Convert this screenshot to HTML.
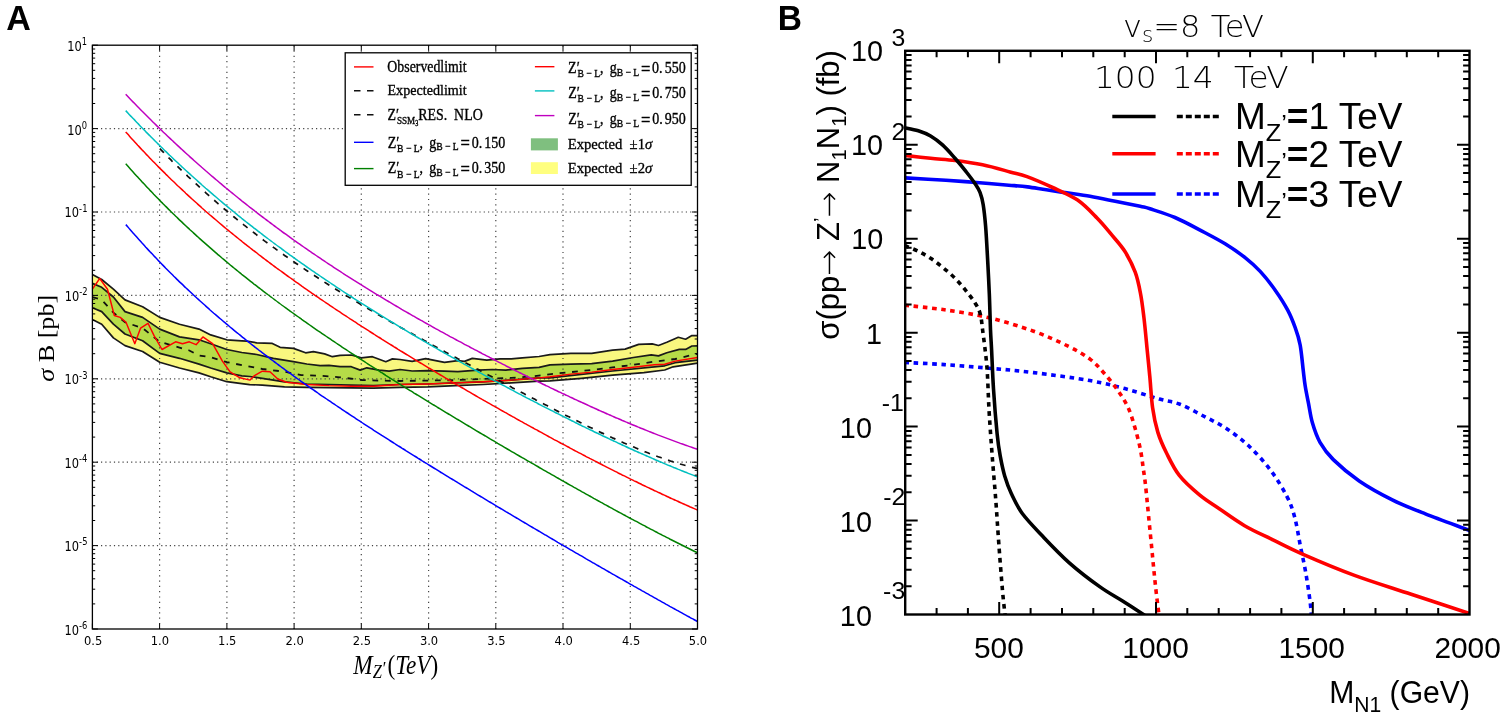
<!DOCTYPE html>
<html><head><meta charset="utf-8"><title>Figure</title>
<style>html,body{margin:0;padding:0;background:#fff;overflow:hidden;}svg{display:block;}</style></head>
<body><svg width="1508" height="719" viewBox="0 0 1508 719">
<rect width="1508" height="719" fill="#fff"/>
<clipPath id="clipA"><rect x="92.4" y="45.2" width="605.1" height="583.8"/></clipPath>
<g clip-path="url(#clipA)">
<polygon points="92.4,274.6 101.7,279.5 113.4,289.2 125.0,299.9 142.6,306.7 159.7,317.4 179.5,324.2 199.0,329.1 210.7,334.9 226.8,339.8 241.8,340.8 246.7,341.1 256.7,342.8 272.3,343.4 280.1,347.3 293.4,348.4 305.6,352.8 313.4,351.7 324.6,353.9 332.4,356.7 340.1,355.4 351.3,355.0 361.3,357.8 372.4,356.7 385.8,361.7 392.4,358.9 400.0,359.5 412.2,361.4 425.6,358.7 444.5,362.3 457.9,360.6 464.5,361.4 472.3,358.4 486.8,360.1 500.1,358.9 511.3,358.9 522.4,357.8 539.1,356.5 550.0,354.6 570.9,353.3 591.7,353.3 612.6,350.2 625.1,349.1 638.7,344.4 652.2,343.9 658.5,345.5 666.8,342.3 678.3,337.3 685.6,339.2 691.9,335.6 697.5,335.6 697.5,363.2 673.1,366.8 664.7,370.0 643.9,372.6 612.6,375.2 581.3,378.3 550.0,380.9 539.1,381.2 511.3,382.9 483.4,384.5 455.6,385.6 427.8,386.8 400.0,387.3 373.5,388.1 351.3,387.9 329.0,387.7 306.8,387.3 284.5,386.8 262.3,385.1 249.6,384.6 241.8,383.6 226.8,381.7 210.7,376.8 199.0,372.9 179.5,368.0 159.7,362.2 142.6,351.5 125.0,345.6 113.4,337.9 101.7,324.2 92.4,319.4" fill="#f9f77f" stroke="none"/>
<polygon points="92.4,283.4 101.7,287.3 113.4,297.0 125.0,311.6 142.6,317.4 159.7,329.1 179.5,336.9 199.0,339.8 210.7,343.7 226.8,349.5 241.8,352.5 256.7,354.5 273.4,358.4 293.4,361.7 306.8,364.0 320.1,365.6 329.0,365.4 340.1,366.7 351.3,366.7 360.2,370.1 366.8,367.8 379.1,370.1 389.1,371.2 400.0,369.5 412.2,371.0 427.8,370.6 444.5,371.2 457.9,371.7 477.9,370.1 492.4,369.5 505.7,370.1 522.4,368.4 539.1,367.3 550.0,364.8 570.9,364.2 591.7,363.7 612.6,361.1 633.4,357.5 651.2,354.9 658.5,355.9 666.8,352.8 679.3,349.4 685.6,349.4 691.9,346.0 697.5,345.8 697.5,360.1 675.2,362.7 664.7,365.8 612.6,371.0 550.0,377.8 539.1,377.9 511.3,380.1 483.4,381.8 455.6,382.9 427.8,384.0 400.0,384.5 373.5,385.6 351.3,385.1 329.0,384.5 306.8,384.0 284.5,381.8 262.3,378.4 249.6,376.5 241.8,375.8 226.8,372.9 210.7,368.0 199.0,364.1 179.5,358.3 159.7,353.4 142.6,340.8 125.0,334.0 113.4,324.2 101.7,311.6 92.4,307.7" fill="#b6dc48" stroke="none"/>
<g stroke="#444" stroke-width="1.2" fill="none">
<line x1="159.6" y1="45.2" x2="159.6" y2="629.0" stroke-dasharray="1.2 4.1"/>
<line x1="226.9" y1="45.2" x2="226.9" y2="629.0" stroke-dasharray="1.2 4.1"/>
<line x1="294.1" y1="45.2" x2="294.1" y2="629.0" stroke-dasharray="1.2 4.1"/>
<line x1="361.3" y1="45.2" x2="361.3" y2="629.0" stroke-dasharray="1.2 4.1"/>
<line x1="428.6" y1="45.2" x2="428.6" y2="629.0" stroke-dasharray="1.2 4.1"/>
<line x1="495.8" y1="45.2" x2="495.8" y2="629.0" stroke-dasharray="1.2 4.1"/>
<line x1="563.0" y1="45.2" x2="563.0" y2="629.0" stroke-dasharray="1.2 4.1"/>
<line x1="630.3" y1="45.2" x2="630.3" y2="629.0" stroke-dasharray="1.2 4.1"/>
<line x1="92.4" y1="128.6" x2="697.5" y2="128.6" stroke-dasharray="1.2 3.1"/>
<line x1="92.4" y1="212.0" x2="697.5" y2="212.0" stroke-dasharray="1.2 3.1"/>
<line x1="92.4" y1="295.4" x2="697.5" y2="295.4" stroke-dasharray="1.2 3.1"/>
<line x1="92.4" y1="378.8" x2="697.5" y2="378.8" stroke-dasharray="1.2 3.1"/>
<line x1="92.4" y1="462.2" x2="697.5" y2="462.2" stroke-dasharray="1.2 3.1"/>
<line x1="92.4" y1="545.6" x2="697.5" y2="545.6" stroke-dasharray="1.2 3.1"/>
</g>
<g fill="none" stroke="#1a1a1a" stroke-width="1.7" stroke-linejoin="round">
<polyline points="92.4,274.6 101.7,279.5 113.4,289.2 125.0,299.9 142.6,306.7 159.7,317.4 179.5,324.2 199.0,329.1 210.7,334.9 226.8,339.8 241.8,340.8 246.7,341.1 256.7,342.8 272.3,343.4 280.1,347.3 293.4,348.4 305.6,352.8 313.4,351.7 324.6,353.9 332.4,356.7 340.1,355.4 351.3,355.0 361.3,357.8 372.4,356.7 385.8,361.7 392.4,358.9 400.0,359.5 412.2,361.4 425.6,358.7 444.5,362.3 457.9,360.6 464.5,361.4 472.3,358.4 486.8,360.1 500.1,358.9 511.3,358.9 522.4,357.8 539.1,356.5 550.0,354.6 570.9,353.3 591.7,353.3 612.6,350.2 625.1,349.1 638.7,344.4 652.2,343.9 658.5,345.5 666.8,342.3 678.3,337.3 685.6,339.2 691.9,335.6 697.5,335.6"/>
<polyline points="92.4,283.4 101.7,287.3 113.4,297.0 125.0,311.6 142.6,317.4 159.7,329.1 179.5,336.9 199.0,339.8 210.7,343.7 226.8,349.5 241.8,352.5 256.7,354.5 273.4,358.4 293.4,361.7 306.8,364.0 320.1,365.6 329.0,365.4 340.1,366.7 351.3,366.7 360.2,370.1 366.8,367.8 379.1,370.1 389.1,371.2 400.0,369.5 412.2,371.0 427.8,370.6 444.5,371.2 457.9,371.7 477.9,370.1 492.4,369.5 505.7,370.1 522.4,368.4 539.1,367.3 550.0,364.8 570.9,364.2 591.7,363.7 612.6,361.1 633.4,357.5 651.2,354.9 658.5,355.9 666.8,352.8 679.3,349.4 685.6,349.4 691.9,346.0 697.5,345.8"/>
<polyline points="92.4,307.7 101.7,311.6 113.4,324.2 125.0,334.0 142.6,340.8 159.7,353.4 179.5,358.3 199.0,364.1 210.7,368.0 226.8,372.9 241.8,375.8 249.6,376.5 262.3,378.4 284.5,381.8 306.8,384.0 329.0,384.5 351.3,385.1 373.5,385.6 400.0,384.5 427.8,384.0 455.6,382.9 483.4,381.8 511.3,380.1 539.1,377.9 550.0,377.8 612.6,371.0 664.7,365.8 675.2,362.7 697.5,360.1"/>
<polyline points="92.4,319.4 101.7,324.2 113.4,337.9 125.0,345.6 142.6,351.5 159.7,362.2 179.5,368.0 199.0,372.9 210.7,376.8 226.8,381.7 241.8,383.6 249.6,384.6 262.3,385.1 284.5,386.8 306.8,387.3 329.0,387.7 351.3,387.9 373.5,388.1 400.0,387.3 427.8,386.8 455.6,385.6 483.4,384.5 511.3,382.9 539.1,381.2 550.0,380.9 581.3,378.3 612.6,375.2 643.9,372.6 664.7,370.0 673.1,366.8 697.5,363.2"/>
</g>
<polyline points="92.4,297.0 101.7,299.9 113.4,312.6 125.0,322.3 142.6,328.1 159.7,341.8 179.5,347.6 189.3,350.5 199.0,355.4 210.7,357.3 226.8,362.2 241.8,365.1 262.3,369.0 284.5,371.7 301.2,375.1 317.9,375.6 340.1,377.3 362.4,380.1 379.1,380.6 400.0,381.0 427.8,380.6 455.6,380.1 483.4,379.0 511.3,377.9 533.5,376.2 555.2,373.6 570.9,372.1 591.7,370.0 612.6,367.4 633.4,364.8 654.3,361.6 675.2,359.0 697.5,353.8" fill="none" stroke="#111" stroke-width="1.8" stroke-dasharray="5.8 6.7"/>
<polyline points="92.4,289.2 99.7,278.5 107.5,289.2 114.3,315.5 120.2,317.4 126.0,322.3 134.8,343.7 140.6,328.1 148.0,323.3 154.2,335.9 162.0,349.5 175.6,341.8 182.5,343.7 189.3,341.8 196.1,344.7 202.9,336.9 212.6,343.7 222.4,361.2 230.1,371.9 239.9,377.8 250.0,380.1 254.5,375.6 262.3,371.2 270.0,371.7 277.8,379.0 286.7,382.3 306.8,384.5 329.0,385.6 351.3,386.2 373.5,386.2 400.0,384.5 427.8,384.0 455.6,382.9 483.4,381.8 511.3,380.1 539.1,377.9 550.0,376.8 570.9,374.1 591.7,372.1 612.6,369.5 633.4,367.2 654.3,364.8 664.7,364.2 675.2,361.1 697.5,357.5" fill="none" stroke="#ff0000" stroke-width="1.45" stroke-linejoin="round"/>
<g fill="none" stroke-width="1.5" stroke-linejoin="round">
<path d="M125.8,224.6C126.5,225.3 128.5,227.7 129.8,229.2C131.1,230.8 132.5,232.3 133.8,233.8C135.1,235.3 136.5,236.8 137.8,238.3C139.1,239.8 140.5,241.3 141.8,242.8C143.1,244.2 144.5,245.7 145.8,247.2C147.1,248.6 148.5,250.0 149.8,251.5C151.1,252.9 152.5,254.3 153.8,255.7C155.1,257.1 156.5,258.5 157.8,259.9C159.1,261.3 160.5,262.7 161.8,264.1C163.1,265.4 164.5,266.8 165.8,268.2C167.1,269.5 168.5,270.9 169.8,272.2C171.1,273.5 172.5,274.8 173.8,276.2C175.1,277.5 176.5,278.8 177.8,280.1C179.1,281.4 180.5,282.7 181.8,283.9C183.1,285.2 184.5,286.5 185.8,287.8C187.1,289.0 188.5,290.3 189.8,291.5C191.1,292.8 192.5,294.0 193.8,295.2C195.1,296.5 196.5,297.7 197.8,298.9C199.1,300.1 200.5,301.3 201.8,302.5C203.1,303.7 204.5,304.9 205.8,306.1C207.1,307.3 208.5,308.5 209.8,309.7C211.1,310.8 212.5,312.0 213.8,313.2C215.1,314.3 216.5,315.5 217.8,316.6C219.1,317.8 220.5,318.9 221.8,320.0C223.1,321.2 224.5,322.3 225.8,323.4C227.1,324.5 228.5,325.6 229.8,326.8C231.1,327.9 232.5,329.0 233.8,330.1C235.1,331.2 236.5,332.3 237.8,333.3C239.1,334.4 240.5,335.5 241.8,336.6C243.1,337.7 244.5,338.7 245.8,339.8C247.1,340.9 248.5,341.9 249.8,343.0C251.1,344.0 252.5,345.1 253.8,346.1C255.1,347.2 256.5,348.2 257.8,349.2C259.1,350.3 260.5,351.3 261.8,352.3C263.1,353.3 264.5,354.4 265.8,355.4C267.1,356.4 268.5,357.4 269.8,358.4C271.1,359.4 272.5,360.4 273.8,361.4C275.1,362.4 276.5,363.4 277.8,364.4C279.1,365.4 280.5,366.4 281.8,367.4C283.1,368.3 284.5,369.3 285.8,370.3C287.1,371.3 288.5,372.2 289.8,373.2C291.1,374.2 292.5,375.1 293.8,376.1C295.1,377.0 296.5,378.0 297.8,379.0C299.1,379.9 300.5,380.9 301.8,381.8C303.1,382.7 304.5,383.7 305.8,384.6C307.1,385.6 308.5,386.5 309.8,387.4C311.1,388.4 312.5,389.3 313.8,390.2C315.1,391.2 316.5,392.1 317.8,393.0C319.1,393.9 320.5,394.8 321.8,395.8C323.1,396.7 324.5,397.6 325.8,398.5C327.1,399.4 328.5,400.3 329.8,401.2C331.1,402.1 332.5,403.0 333.8,403.9C335.1,404.8 336.5,405.7 337.8,406.6C339.1,407.5 340.5,408.4 341.8,409.3C343.1,410.2 344.5,411.1 345.8,412.0C347.1,412.8 348.5,413.7 349.8,414.6C351.1,415.5 352.5,416.4 353.8,417.2C355.1,418.1 356.5,419.0 357.8,419.9C359.1,420.7 360.5,421.6 361.8,422.5C363.1,423.4 364.5,424.2 365.8,425.1C367.1,426.0 368.5,426.8 369.8,427.7C371.1,428.5 372.5,429.4 373.8,430.3C375.1,431.1 376.5,432.0 377.8,432.8C379.1,433.7 380.5,434.5 381.8,435.4C383.1,436.2 384.5,437.1 385.8,437.9C387.1,438.8 388.5,439.6 389.8,440.5C391.1,441.3 392.5,442.2 393.8,443.0C395.1,443.9 396.5,444.7 397.8,445.6C399.1,446.4 400.5,447.2 401.8,448.1C403.1,448.9 404.5,449.7 405.8,450.6C407.1,451.4 408.5,452.3 409.8,453.1C411.1,453.9 412.5,454.8 413.8,455.6C415.1,456.4 416.5,457.2 417.8,458.1C419.1,458.9 420.5,459.7 421.8,460.6C423.1,461.4 424.5,462.2 425.8,463.0C427.1,463.9 428.5,464.7 429.8,465.5C431.1,466.3 432.5,467.2 433.8,468.0C435.1,468.8 436.5,469.6 437.8,470.4C439.1,471.3 440.5,472.1 441.8,472.9C443.1,473.7 444.5,474.5 445.8,475.3C447.1,476.2 448.5,477.0 449.8,477.8C451.1,478.6 452.5,479.4 453.8,480.2C455.1,481.0 456.5,481.8 457.8,482.7C459.1,483.5 460.5,484.3 461.8,485.1C463.1,485.9 464.5,486.7 465.8,487.5C467.1,488.3 468.5,489.1 469.8,489.9C471.1,490.7 472.5,491.5 473.8,492.4C475.1,493.2 476.5,494.0 477.8,494.8C479.1,495.6 480.5,496.4 481.8,497.2C483.1,498.0 484.5,498.8 485.8,499.6C487.1,500.4 488.5,501.2 489.8,502.0C491.1,502.8 492.5,503.6 493.8,504.4C495.1,505.2 496.5,506.0 497.8,506.8C499.1,507.6 500.5,508.4 501.8,509.2C503.1,510.0 504.5,510.8 505.8,511.6C507.1,512.3 508.5,513.1 509.8,513.9C511.1,514.7 512.5,515.5 513.8,516.3C515.1,517.1 516.5,517.9 517.8,518.7C519.1,519.5 520.5,520.3 521.8,521.1C523.1,521.9 524.5,522.6 525.8,523.4C527.1,524.2 528.5,525.0 529.8,525.8C531.1,526.6 532.5,527.4 533.8,528.2C535.1,528.9 536.5,529.7 537.8,530.5C539.1,531.3 540.5,532.1 541.8,532.9C543.1,533.7 544.5,534.4 545.8,535.2C547.1,536.0 548.5,536.8 549.8,537.6C551.1,538.4 552.5,539.1 553.8,539.9C555.1,540.7 556.5,541.5 557.8,542.3C559.1,543.0 560.5,543.8 561.8,544.6C563.1,545.4 564.5,546.2 565.8,546.9C567.1,547.7 568.5,548.5 569.8,549.3C571.1,550.1 572.5,550.8 573.8,551.6C575.1,552.4 576.5,553.2 577.8,553.9C579.1,554.7 580.5,555.5 581.8,556.2C583.1,557.0 584.5,557.8 585.8,558.6C587.1,559.3 588.5,560.1 589.8,560.9C591.1,561.7 592.5,562.4 593.8,563.2C595.1,564.0 596.5,564.7 597.8,565.5C599.1,566.3 600.5,567.0 601.8,567.8C603.1,568.6 604.5,569.3 605.8,570.1C607.1,570.9 608.5,571.6 609.8,572.4C611.1,573.2 612.5,573.9 613.8,574.7C615.1,575.4 616.5,576.2 617.8,577.0C619.1,577.7 620.5,578.5 621.8,579.2C623.1,580.0 624.5,580.8 625.8,581.5C627.1,582.3 628.5,583.0 629.8,583.8C631.1,584.6 632.5,585.3 633.8,586.1C635.1,586.8 636.5,587.6 637.8,588.3C639.1,589.1 640.5,589.8 641.8,590.6C643.1,591.3 644.5,592.1 645.8,592.8C647.1,593.6 648.5,594.3 649.8,595.1C651.1,595.8 652.5,596.6 653.8,597.3C655.1,598.1 656.5,598.8 657.8,599.6C659.1,600.3 660.5,601.1 661.8,601.8C663.1,602.6 664.5,603.3 665.8,604.1C667.1,604.8 668.5,605.5 669.8,606.3C671.1,607.0 672.5,607.8 673.8,608.5C675.1,609.2 676.5,610.0 677.8,610.7C679.1,611.5 680.5,612.2 681.8,612.9C683.1,613.7 684.5,614.4 685.8,615.1C687.1,615.9 688.5,616.6 689.8,617.3C691.1,618.1 692.5,618.8 693.8,619.5C695.1,620.2 696.9,621.2 697.5,621.6" stroke="#0000ff"/>
<path d="M125.7,163.7C126.4,164.4 128.4,166.7 129.7,168.2C131.0,169.7 132.4,171.2 133.7,172.7C135.0,174.2 136.4,175.6 137.7,177.1C139.0,178.6 140.4,180.0 141.7,181.5C143.0,182.9 144.4,184.3 145.7,185.7C147.0,187.2 148.4,188.6 149.7,190.0C151.0,191.4 152.4,192.8 153.7,194.2C155.0,195.5 156.4,196.9 157.7,198.3C159.0,199.7 160.4,201.0 161.7,202.4C163.0,203.7 164.4,205.0 165.7,206.4C167.0,207.7 168.4,209.0 169.7,210.3C171.0,211.7 172.4,213.0 173.7,214.3C175.0,215.6 176.4,216.8 177.7,218.1C179.0,219.4 180.4,220.7 181.7,221.9C183.0,223.2 184.4,224.5 185.7,225.7C187.0,227.0 188.4,228.2 189.7,229.5C191.0,230.7 192.4,231.9 193.7,233.1C195.0,234.4 196.4,235.6 197.7,236.8C199.0,238.0 200.4,239.2 201.7,240.4C203.0,241.6 204.4,242.7 205.7,243.9C207.0,245.1 208.4,246.3 209.7,247.4C211.0,248.6 212.4,249.8 213.7,250.9C215.0,252.1 216.4,253.2 217.7,254.4C219.0,255.5 220.4,256.6 221.7,257.8C223.0,258.9 224.4,260.0 225.7,261.1C227.0,262.2 228.4,263.4 229.7,264.5C231.0,265.6 232.4,266.7 233.7,267.8C235.0,268.9 236.4,269.9 237.7,271.0C239.0,272.1 240.4,273.2 241.7,274.3C243.0,275.3 244.4,276.4 245.7,277.4C247.0,278.5 248.4,279.6 249.7,280.6C251.0,281.7 252.4,282.7 253.7,283.8C255.0,284.8 256.4,285.8 257.7,286.9C259.0,287.9 260.4,288.9 261.7,289.9C263.0,291.0 264.4,292.0 265.7,293.0C267.0,294.0 268.4,295.0 269.7,296.0C271.0,297.0 272.4,298.0 273.7,299.0C275.0,300.0 276.4,301.0 277.7,302.0C279.0,303.0 280.4,304.0 281.7,305.0C283.0,305.9 284.4,306.9 285.7,307.9C287.0,308.9 288.4,309.8 289.7,310.8C291.0,311.8 292.4,312.7 293.7,313.7C295.0,314.6 296.4,315.6 297.7,316.5C299.0,317.5 300.4,318.4 301.7,319.4C303.0,320.3 304.4,321.3 305.7,322.2C307.0,323.1 308.4,324.1 309.7,325.0C311.0,325.9 312.4,326.9 313.7,327.8C315.0,328.7 316.4,329.6 317.7,330.6C319.0,331.5 320.4,332.4 321.7,333.3C323.0,334.2 324.4,335.1 325.7,336.0C327.0,336.9 328.4,337.8 329.7,338.7C331.0,339.6 332.4,340.5 333.7,341.4C335.0,342.3 336.4,343.2 337.7,344.1C339.0,345.0 340.4,345.9 341.7,346.8C343.0,347.7 344.4,348.6 345.7,349.4C347.0,350.3 348.4,351.2 349.7,352.1C351.0,353.0 352.4,353.8 353.7,354.7C355.0,355.6 356.4,356.4 357.7,357.3C359.0,358.2 360.4,359.1 361.7,359.9C363.0,360.8 364.4,361.6 365.7,362.5C367.0,363.4 368.4,364.2 369.7,365.1C371.0,365.9 372.4,366.8 373.7,367.6C375.0,368.5 376.4,369.4 377.7,370.2C379.0,371.1 380.4,371.9 381.7,372.7C383.0,373.6 384.4,374.4 385.7,375.3C387.0,376.1 388.4,377.0 389.7,377.8C391.0,378.6 392.4,379.5 393.7,380.3C395.0,381.2 396.4,382.0 397.7,382.8C399.0,383.7 400.4,384.5 401.7,385.3C403.0,386.2 404.4,387.0 405.7,387.8C407.0,388.6 408.4,389.5 409.7,390.3C411.0,391.1 412.4,391.9 413.7,392.8C415.0,393.6 416.4,394.4 417.7,395.2C419.0,396.0 420.4,396.9 421.7,397.7C423.0,398.5 424.4,399.3 425.7,400.1C427.0,401.0 428.4,401.8 429.7,402.6C431.0,403.4 432.4,404.2 433.7,405.0C435.0,405.8 436.4,406.6 437.7,407.5C439.0,408.3 440.4,409.1 441.7,409.9C443.0,410.7 444.4,411.5 445.7,412.3C447.0,413.1 448.4,413.9 449.7,414.7C451.0,415.5 452.4,416.3 453.7,417.1C455.0,417.9 456.4,418.7 457.7,419.5C459.0,420.3 460.4,421.1 461.7,421.9C463.0,422.7 464.4,423.5 465.7,424.3C467.0,425.1 468.4,425.9 469.7,426.7C471.0,427.5 472.4,428.3 473.7,429.1C475.0,429.9 476.4,430.7 477.7,431.5C479.0,432.2 480.4,433.0 481.7,433.8C483.0,434.6 484.4,435.4 485.7,436.2C487.0,437.0 488.4,437.8 489.7,438.6C491.0,439.3 492.4,440.1 493.7,440.9C495.0,441.7 496.4,442.5 497.7,443.3C499.0,444.0 500.4,444.8 501.7,445.6C503.0,446.4 504.4,447.2 505.7,448.0C507.0,448.7 508.4,449.5 509.7,450.3C511.0,451.1 512.4,451.9 513.7,452.6C515.0,453.4 516.4,454.2 517.7,455.0C519.0,455.7 520.4,456.5 521.7,457.3C523.0,458.1 524.4,458.8 525.7,459.6C527.0,460.4 528.4,461.2 529.7,461.9C531.0,462.7 532.4,463.5 533.7,464.2C535.0,465.0 536.4,465.8 537.7,466.5C539.0,467.3 540.4,468.1 541.7,468.8C543.0,469.6 544.4,470.4 545.7,471.1C547.0,471.9 548.4,472.7 549.7,473.4C551.0,474.2 552.4,475.0 553.7,475.7C555.0,476.5 556.4,477.2 557.7,478.0C559.0,478.8 560.4,479.5 561.7,480.3C563.0,481.0 564.4,481.8 565.7,482.5C567.0,483.3 568.4,484.1 569.7,484.8C571.0,485.6 572.4,486.3 573.7,487.1C575.0,487.8 576.4,488.6 577.7,489.3C579.0,490.1 580.4,490.8 581.7,491.6C583.0,492.3 584.4,493.1 585.7,493.8C587.0,494.5 588.4,495.3 589.7,496.0C591.0,496.8 592.4,497.5 593.7,498.3C595.0,499.0 596.4,499.7 597.7,500.5C599.0,501.2 600.4,502.0 601.7,502.7C603.0,503.4 604.4,504.2 605.7,504.9C607.0,505.6 608.4,506.4 609.7,507.1C611.0,507.8 612.4,508.6 613.7,509.3C615.0,510.0 616.4,510.7 617.7,511.5C619.0,512.2 620.4,512.9 621.7,513.6C623.0,514.4 624.4,515.1 625.7,515.8C627.0,516.5 628.4,517.2 629.7,518.0C631.0,518.7 632.4,519.4 633.7,520.1C635.0,520.8 636.4,521.5 637.7,522.2C639.0,523.0 640.4,523.7 641.7,524.4C643.0,525.1 644.4,525.8 645.7,526.5C647.0,527.2 648.4,527.9 649.7,528.6C651.0,529.3 652.4,530.0 653.7,530.7C655.0,531.4 656.4,532.1 657.7,532.8C659.0,533.5 660.4,534.2 661.7,534.8C663.0,535.5 664.4,536.2 665.7,536.9C667.0,537.6 668.4,538.3 669.7,539.0C671.0,539.6 672.4,540.3 673.7,541.0C675.0,541.7 676.4,542.4 677.7,543.0C679.0,543.7 680.4,544.4 681.7,545.0C683.0,545.7 684.4,546.4 685.7,547.0C687.0,547.7 688.4,548.4 689.7,549.0C691.0,549.7 692.4,550.4 693.7,551.0C695.0,551.6 696.9,552.5 697.5,552.8" stroke="#008000"/>
<path d="M125.7,131.9C126.4,132.7 128.4,134.9 129.7,136.4C131.0,137.9 132.4,139.4 133.7,140.8C135.0,142.3 136.4,143.7 137.7,145.2C139.0,146.6 140.4,148.0 141.7,149.5C143.0,150.9 144.4,152.3 145.7,153.7C147.0,155.1 148.4,156.5 149.7,157.9C151.0,159.3 152.4,160.6 153.7,162.0C155.0,163.4 156.4,164.7 157.7,166.1C159.0,167.4 160.4,168.8 161.7,170.1C163.0,171.4 164.4,172.7 165.7,174.1C167.0,175.4 168.4,176.7 169.7,178.0C171.0,179.3 172.4,180.6 173.7,181.8C175.0,183.1 176.4,184.4 177.7,185.7C179.0,186.9 180.4,188.2 181.7,189.4C183.0,190.7 184.4,191.9 185.7,193.2C187.0,194.4 188.4,195.6 189.7,196.9C191.0,198.1 192.4,199.3 193.7,200.5C195.0,201.7 196.4,202.9 197.7,204.1C199.0,205.3 200.4,206.5 201.7,207.7C203.0,208.8 204.4,210.0 205.7,211.2C207.0,212.3 208.4,213.5 209.7,214.7C211.0,215.8 212.4,217.0 213.7,218.1C215.0,219.2 216.4,220.4 217.7,221.5C219.0,222.6 220.4,223.8 221.7,224.9C223.0,226.0 224.4,227.1 225.7,228.2C227.0,229.3 228.4,230.4 229.7,231.5C231.0,232.6 232.4,233.7 233.7,234.8C235.0,235.9 236.4,236.9 237.7,238.0C239.0,239.1 240.4,240.2 241.7,241.2C243.0,242.3 244.4,243.3 245.7,244.4C247.0,245.5 248.4,246.5 249.7,247.5C251.0,248.6 252.4,249.6 253.7,250.7C255.0,251.7 256.4,252.7 257.7,253.7C259.0,254.8 260.4,255.8 261.7,256.8C263.0,257.8 264.4,258.8 265.7,259.8C267.0,260.8 268.4,261.8 269.7,262.8C271.0,263.8 272.4,264.8 273.7,265.8C275.0,266.8 276.4,267.8 277.7,268.8C279.0,269.8 280.4,270.7 281.7,271.7C283.0,272.7 284.4,273.7 285.7,274.6C287.0,275.6 288.4,276.6 289.7,277.5C291.0,278.5 292.4,279.4 293.7,280.4C295.0,281.3 296.4,282.3 297.7,283.2C299.0,284.2 300.4,285.1 301.7,286.1C303.0,287.0 304.4,287.9 305.7,288.9C307.0,289.8 308.4,290.7 309.7,291.7C311.0,292.6 312.4,293.5 313.7,294.4C315.0,295.3 316.4,296.3 317.7,297.2C319.0,298.1 320.4,299.0 321.7,299.9C323.0,300.8 324.4,301.7 325.7,302.6C327.0,303.5 328.4,304.4 329.7,305.3C331.0,306.2 332.4,307.1 333.7,308.0C335.0,308.9 336.4,309.8 337.7,310.7C339.0,311.5 340.4,312.4 341.7,313.3C343.0,314.2 344.4,315.1 345.7,315.9C347.0,316.8 348.4,317.7 349.7,318.6C351.0,319.4 352.4,320.3 353.7,321.2C355.0,322.0 356.4,322.9 357.7,323.8C359.0,324.6 360.4,325.5 361.7,326.4C363.0,327.2 364.4,328.1 365.7,328.9C367.0,329.8 368.4,330.6 369.7,331.5C371.0,332.3 372.4,333.2 373.7,334.0C375.0,334.9 376.4,335.7 377.7,336.6C379.0,337.4 380.4,338.2 381.7,339.1C383.0,339.9 384.4,340.8 385.7,341.6C387.0,342.4 388.4,343.3 389.7,344.1C391.0,344.9 392.4,345.7 393.7,346.6C395.0,347.4 396.4,348.2 397.7,349.1C399.0,349.9 400.4,350.7 401.7,351.5C403.0,352.3 404.4,353.2 405.7,354.0C407.0,354.8 408.4,355.6 409.7,356.4C411.0,357.2 412.4,358.1 413.7,358.9C415.0,359.7 416.4,360.5 417.7,361.3C419.0,362.1 420.4,362.9 421.7,363.7C423.0,364.5 424.4,365.3 425.7,366.1C427.0,366.9 428.4,367.7 429.7,368.5C431.0,369.3 432.4,370.1 433.7,370.9C435.0,371.7 436.4,372.5 437.7,373.3C439.0,374.1 440.4,374.9 441.7,375.7C443.0,376.5 444.4,377.3 445.7,378.1C447.0,378.9 448.4,379.6 449.7,380.4C451.0,381.2 452.4,382.0 453.7,382.8C455.0,383.6 456.4,384.4 457.7,385.1C459.0,385.9 460.4,386.7 461.7,387.5C463.0,388.3 464.4,389.0 465.7,389.8C467.0,390.6 468.4,391.4 469.7,392.1C471.0,392.9 472.4,393.7 473.7,394.5C475.0,395.2 476.4,396.0 477.7,396.8C479.0,397.5 480.4,398.3 481.7,399.1C483.0,399.8 484.4,400.6 485.7,401.4C487.0,402.1 488.4,402.9 489.7,403.7C491.0,404.4 492.4,405.2 493.7,405.9C495.0,406.7 496.4,407.5 497.7,408.2C499.0,409.0 500.4,409.7 501.7,410.5C503.0,411.2 504.4,412.0 505.7,412.7C507.0,413.5 508.4,414.2 509.7,415.0C511.0,415.7 512.4,416.5 513.7,417.2C515.0,418.0 516.4,418.7 517.7,419.5C519.0,420.2 520.4,421.0 521.7,421.7C523.0,422.4 524.4,423.2 525.7,423.9C527.0,424.7 528.4,425.4 529.7,426.1C531.0,426.9 532.4,427.6 533.7,428.3C535.0,429.1 536.4,429.8 537.7,430.5C539.0,431.3 540.4,432.0 541.7,432.7C543.0,433.5 544.4,434.2 545.7,434.9C547.0,435.6 548.4,436.4 549.7,437.1C551.0,437.8 552.4,438.5 553.7,439.3C555.0,440.0 556.4,440.7 557.7,441.4C559.0,442.1 560.4,442.9 561.7,443.6C563.0,444.3 564.4,445.0 565.7,445.7C567.0,446.4 568.4,447.1 569.7,447.8C571.0,448.5 572.4,449.3 573.7,450.0C575.0,450.7 576.4,451.4 577.7,452.1C579.0,452.8 580.4,453.5 581.7,454.2C583.0,454.9 584.4,455.6 585.7,456.3C587.0,457.0 588.4,457.7 589.7,458.4C591.0,459.0 592.4,459.7 593.7,460.4C595.0,461.1 596.4,461.8 597.7,462.5C599.0,463.2 600.4,463.9 601.7,464.5C603.0,465.2 604.4,465.9 605.7,466.6C607.0,467.3 608.4,468.0 609.7,468.6C611.0,469.3 612.4,470.0 613.7,470.6C615.0,471.3 616.4,472.0 617.7,472.7C619.0,473.3 620.4,474.0 621.7,474.7C623.0,475.3 624.4,476.0 625.7,476.6C627.0,477.3 628.4,478.0 629.7,478.6C631.0,479.3 632.4,479.9 633.7,480.6C635.0,481.2 636.4,481.9 637.7,482.5C639.0,483.2 640.4,483.8 641.7,484.5C643.0,485.1 644.4,485.8 645.7,486.4C647.0,487.0 648.4,487.7 649.7,488.3C651.0,488.9 652.4,489.6 653.7,490.2C655.0,490.8 656.4,491.5 657.7,492.1C659.0,492.7 660.4,493.3 661.7,494.0C663.0,494.6 664.4,495.2 665.7,495.8C667.0,496.4 668.4,497.1 669.7,497.7C671.0,498.3 672.4,498.9 673.7,499.5C675.0,500.1 676.4,500.7 677.7,501.3C679.0,501.9 680.4,502.5 681.7,503.1C683.0,503.7 684.4,504.3 685.7,504.9C687.0,505.5 688.4,506.1 689.7,506.7C691.0,507.2 692.4,507.8 693.7,508.4C695.0,509.0 696.9,509.8 697.5,510.0" stroke="#ff0000"/>
<path d="M159.8,148.6C160.5,149.3 162.5,151.4 163.8,152.7C165.1,154.1 166.5,155.4 167.8,156.8C169.1,158.1 170.5,159.4 171.8,160.8C173.1,162.1 174.5,163.4 175.8,164.7C177.1,166.0 178.5,167.3 179.8,168.6C181.1,169.9 182.5,171.2 183.8,172.5C185.1,173.7 186.5,175.0 187.8,176.3C189.1,177.5 190.5,178.8 191.8,180.0C193.1,181.3 194.5,182.5 195.8,183.7C197.1,185.0 198.5,186.2 199.8,187.4C201.1,188.6 202.5,189.8 203.8,191.0C205.1,192.2 206.5,193.4 207.8,194.6C209.1,195.8 210.5,197.0 211.8,198.1C213.1,199.3 214.5,200.5 215.8,201.6C217.1,202.8 218.5,203.9 219.8,205.1C221.1,206.2 222.5,207.3 223.8,208.5C225.1,209.6 226.5,210.7 227.8,211.8C229.1,212.9 230.5,214.0 231.8,215.1C233.1,216.2 234.5,217.3 235.8,218.4C237.1,219.5 238.5,220.6 239.8,221.7C241.1,222.7 242.5,223.8 243.8,224.9C245.1,225.9 246.5,227.0 247.8,228.0C249.1,229.1 250.5,230.1 251.8,231.1C253.1,232.2 254.5,233.2 255.8,234.2C257.1,235.2 258.5,236.3 259.8,237.3C261.1,238.3 262.5,239.3 263.8,240.3C265.1,241.3 266.5,242.3 267.8,243.2C269.1,244.2 270.5,245.2 271.8,246.2C273.1,247.2 274.5,248.1 275.8,249.1C277.1,250.1 278.5,251.0 279.8,252.0C281.1,252.9 282.5,253.9 283.8,254.8C285.1,255.8 286.5,256.7 287.8,257.6C289.1,258.6 290.5,259.5 291.8,260.4C293.1,261.3 294.5,262.3 295.8,263.2C297.1,264.1 298.5,265.0 299.8,265.9C301.1,266.8 302.5,267.7 303.8,268.6C305.1,269.5 306.5,270.4 307.8,271.3C309.1,272.1 310.5,273.0 311.8,273.9C313.1,274.8 314.5,275.6 315.8,276.5C317.1,277.4 318.5,278.2 319.8,279.1C321.1,280.0 322.5,280.8 323.8,281.7C325.1,282.5 326.5,283.4 327.8,284.2C329.1,285.1 330.5,285.9 331.8,286.7C333.1,287.6 334.5,288.4 335.8,289.2C337.1,290.1 338.5,290.9 339.8,291.7C341.1,292.5 342.5,293.4 343.8,294.2C345.1,295.0 346.5,295.8 347.8,296.6C349.1,297.4 350.5,298.2 351.8,299.0C353.1,299.8 354.5,300.6 355.8,301.4C357.1,302.2 358.5,303.0 359.8,303.8C361.1,304.6 362.5,305.4 363.8,306.2C365.1,307.0 366.5,307.8 367.8,308.6C369.1,309.3 370.5,310.1 371.8,310.9C373.1,311.7 374.5,312.4 375.8,313.2C377.1,314.0 378.5,314.8 379.8,315.5C381.1,316.3 382.5,317.1 383.8,317.8C385.1,318.6 386.5,319.4 387.8,320.1C389.1,320.9 390.5,321.6 391.8,322.4C393.1,323.1 394.5,323.9 395.8,324.6C397.1,325.4 398.5,326.1 399.8,326.9C401.1,327.6 402.5,328.4 403.8,329.1C405.1,329.9 406.5,330.6 407.8,331.4C409.1,332.1 410.5,332.9 411.8,333.6C413.1,334.3 414.5,335.1 415.8,335.8C417.1,336.5 418.5,337.3 419.8,338.0C421.1,338.7 422.5,339.5 423.8,340.2C425.1,340.9 426.5,341.7 427.8,342.4C429.1,343.1 430.5,343.9 431.8,344.6C433.1,345.3 434.5,346.0 435.8,346.8C437.1,347.5 438.5,348.2 439.8,348.9C441.1,349.7 442.5,350.4 443.8,351.1C445.1,351.8 446.5,352.5 447.8,353.3C449.1,354.0 450.5,354.7 451.8,355.4C453.1,356.1 454.5,356.9 455.8,357.6C457.1,358.3 458.5,359.0 459.8,359.7C461.1,360.4 462.5,361.2 463.8,361.9C465.1,362.6 466.5,363.3 467.8,364.0C469.1,364.7 470.5,365.4 471.8,366.2C473.1,366.9 474.5,367.6 475.8,368.3C477.1,369.0 478.5,369.7 479.8,370.4C481.1,371.1 482.5,371.8 483.8,372.5C485.1,373.3 486.5,374.0 487.8,374.7C489.1,375.4 490.5,376.1 491.8,376.8C493.1,377.5 494.5,378.2 495.8,378.9C497.1,379.6 498.5,380.3 499.8,381.0C501.1,381.7 502.5,382.4 503.8,383.1C505.1,383.8 506.5,384.5 507.8,385.3C509.1,386.0 510.5,386.7 511.8,387.4C513.1,388.1 514.5,388.8 515.8,389.5C517.1,390.2 518.5,390.9 519.8,391.6C521.1,392.3 522.5,393.0 523.8,393.6C525.1,394.3 526.5,395.0 527.8,395.7C529.1,396.4 530.5,397.1 531.8,397.8C533.1,398.5 534.5,399.2 535.8,399.9C537.1,400.6 538.5,401.3 539.8,402.0C541.1,402.7 542.5,403.4 543.8,404.0C545.1,404.7 546.5,405.4 547.8,406.1C549.1,406.8 550.5,407.5 551.8,408.2C553.1,408.8 554.5,409.5 555.8,410.2C557.1,410.9 558.5,411.6 559.8,412.2C561.1,412.9 562.5,413.6 563.8,414.3C565.1,414.9 566.5,415.6 567.8,416.3C569.1,416.9 570.5,417.6 571.8,418.3C573.1,418.9 574.5,419.6 575.8,420.3C577.1,420.9 578.5,421.6 579.8,422.2C581.1,422.9 582.5,423.6 583.8,424.2C585.1,424.9 586.5,425.5 587.8,426.2C589.1,426.8 590.5,427.5 591.8,428.1C593.1,428.7 594.5,429.4 595.8,430.0C597.1,430.7 598.5,431.3 599.8,431.9C601.1,432.6 602.5,433.2 603.8,433.8C605.1,434.4 606.5,435.1 607.8,435.7C609.1,436.3 610.5,436.9 611.8,437.5C613.1,438.1 614.5,438.7 615.8,439.3C617.1,439.9 618.5,440.5 619.8,441.1C621.1,441.7 622.5,442.3 623.8,442.9C625.1,443.5 626.5,444.0 627.8,444.6C629.1,445.2 630.5,445.8 631.8,446.3C633.1,446.9 634.5,447.5 635.8,448.0C637.1,448.6 638.5,449.1 639.8,449.7C641.1,450.2 642.5,450.7 643.8,451.3C645.1,451.8 646.5,452.3 647.8,452.8C649.1,453.4 650.5,453.9 651.8,454.4C653.1,454.9 654.5,455.4 655.8,455.9C657.1,456.4 658.5,456.9 659.8,457.3C661.1,457.8 662.5,458.3 663.8,458.7C665.1,459.2 666.5,459.7 667.8,460.1C669.1,460.5 670.5,461.0 671.8,461.4C673.1,461.8 674.5,462.3 675.8,462.7C677.1,463.1 678.5,463.5 679.8,463.9C681.1,464.3 682.5,464.7 683.8,465.0C685.1,465.4 686.5,465.8 687.8,466.1C689.1,466.5 690.5,466.8 691.8,467.2C693.1,467.5 694.8,467.9 695.8,468.1C696.8,468.4 697.2,468.5 697.5,468.5" stroke="#111" stroke-width="1.7" stroke-dasharray="5.8 6.7"/>
<path d="M125.7,110.6C126.4,111.3 128.4,113.5 129.7,114.9C131.0,116.3 132.4,117.7 133.7,119.1C135.0,120.5 136.4,121.9 137.7,123.3C139.0,124.7 140.4,126.1 141.7,127.5C143.0,128.8 144.4,130.2 145.7,131.6C147.0,132.9 148.4,134.3 149.7,135.6C151.0,137.0 152.4,138.3 153.7,139.6C155.0,141.0 156.4,142.3 157.7,143.6C159.0,144.9 160.4,146.2 161.7,147.5C163.0,148.8 164.4,150.1 165.7,151.4C167.0,152.7 168.4,154.0 169.7,155.3C171.0,156.5 172.4,157.8 173.7,159.1C175.0,160.3 176.4,161.6 177.7,162.8C179.0,164.1 180.4,165.3 181.7,166.6C183.0,167.8 184.4,169.0 185.7,170.3C187.0,171.5 188.4,172.7 189.7,173.9C191.0,175.1 192.4,176.3 193.7,177.5C195.0,178.7 196.4,179.9 197.7,181.1C199.0,182.3 200.4,183.5 201.7,184.7C203.0,185.8 204.4,187.0 205.7,188.2C207.0,189.3 208.4,190.5 209.7,191.6C211.0,192.8 212.4,193.9 213.7,195.1C215.0,196.2 216.4,197.4 217.7,198.5C219.0,199.6 220.4,200.8 221.7,201.9C223.0,203.0 224.4,204.1 225.7,205.2C227.0,206.3 228.4,207.4 229.7,208.5C231.0,209.6 232.4,210.7 233.7,211.8C235.0,212.9 236.4,214.0 237.7,215.1C239.0,216.1 240.4,217.2 241.7,218.3C243.0,219.3 244.4,220.4 245.7,221.5C247.0,222.5 248.4,223.6 249.7,224.6C251.0,225.7 252.4,226.7 253.7,227.8C255.0,228.8 256.4,229.8 257.7,230.9C259.0,231.9 260.4,232.9 261.7,233.9C263.0,235.0 264.4,236.0 265.7,237.0C267.0,238.0 268.4,239.0 269.7,240.0C271.0,241.0 272.4,242.0 273.7,243.0C275.0,244.0 276.4,245.0 277.7,246.0C279.0,247.0 280.4,247.9 281.7,248.9C283.0,249.9 284.4,250.9 285.7,251.9C287.0,252.8 288.4,253.8 289.7,254.8C291.0,255.7 292.4,256.7 293.7,257.6C295.0,258.6 296.4,259.5 297.7,260.5C299.0,261.4 300.4,262.4 301.7,263.3C303.0,264.2 304.4,265.2 305.7,266.1C307.0,267.1 308.4,268.0 309.7,268.9C311.0,269.8 312.4,270.8 313.7,271.7C315.0,272.6 316.4,273.5 317.7,274.4C319.0,275.3 320.4,276.2 321.7,277.1C323.0,278.0 324.4,279.0 325.7,279.8C327.0,280.7 328.4,281.6 329.7,282.5C331.0,283.4 332.4,284.3 333.7,285.2C335.0,286.1 336.4,287.0 337.7,287.9C339.0,288.7 340.4,289.6 341.7,290.5C343.0,291.4 344.4,292.2 345.7,293.1C347.0,294.0 348.4,294.8 349.7,295.7C351.0,296.6 352.4,297.4 353.7,298.3C355.0,299.1 356.4,300.0 357.7,300.8C359.0,301.7 360.4,302.5 361.7,303.4C363.0,304.2 364.4,305.1 365.7,305.9C367.0,306.7 368.4,307.6 369.7,308.4C371.0,309.3 372.4,310.1 373.7,310.9C375.0,311.8 376.4,312.6 377.7,313.4C379.0,314.2 380.4,315.1 381.7,315.9C383.0,316.7 384.4,317.5 385.7,318.3C387.0,319.2 388.4,320.0 389.7,320.8C391.0,321.6 392.4,322.4 393.7,323.2C395.0,324.0 396.4,324.8 397.7,325.6C399.0,326.4 400.4,327.2 401.7,328.0C403.0,328.8 404.4,329.6 405.7,330.4C407.0,331.2 408.4,332.0 409.7,332.8C411.0,333.6 412.4,334.4 413.7,335.2C415.0,335.9 416.4,336.7 417.7,337.5C419.0,338.3 420.4,339.1 421.7,339.9C423.0,340.6 424.4,341.4 425.7,342.2C427.0,343.0 428.4,343.7 429.7,344.5C431.0,345.3 432.4,346.0 433.7,346.8C435.0,347.6 436.4,348.3 437.7,349.1C439.0,349.9 440.4,350.6 441.7,351.4C443.0,352.2 444.4,352.9 445.7,353.7C447.0,354.4 448.4,355.2 449.7,355.9C451.0,356.7 452.4,357.5 453.7,358.2C455.0,359.0 456.4,359.7 457.7,360.5C459.0,361.2 460.4,361.9 461.7,362.7C463.0,363.4 464.4,364.2 465.7,364.9C467.0,365.7 468.4,366.4 469.7,367.1C471.0,367.9 472.4,368.6 473.7,369.3C475.0,370.1 476.4,370.8 477.7,371.5C479.0,372.3 480.4,373.0 481.7,373.7C483.0,374.5 484.4,375.2 485.7,375.9C487.0,376.6 488.4,377.4 489.7,378.1C491.0,378.8 492.4,379.5 493.7,380.3C495.0,381.0 496.4,381.7 497.7,382.4C499.0,383.1 500.4,383.8 501.7,384.6C503.0,385.3 504.4,386.0 505.7,386.7C507.0,387.4 508.4,388.1 509.7,388.8C511.0,389.5 512.4,390.2 513.7,390.9C515.0,391.7 516.4,392.4 517.7,393.1C519.0,393.8 520.4,394.5 521.7,395.2C523.0,395.9 524.4,396.6 525.7,397.3C527.0,398.0 528.4,398.7 529.7,399.3C531.0,400.0 532.4,400.7 533.7,401.4C535.0,402.1 536.4,402.8 537.7,403.5C539.0,404.2 540.4,404.9 541.7,405.6C543.0,406.2 544.4,406.9 545.7,407.6C547.0,408.3 548.4,409.0 549.7,409.6C551.0,410.3 552.4,411.0 553.7,411.7C555.0,412.4 556.4,413.0 557.7,413.7C559.0,414.4 560.4,415.1 561.7,415.7C563.0,416.4 564.4,417.1 565.7,417.7C567.0,418.4 568.4,419.1 569.7,419.7C571.0,420.4 572.4,421.0 573.7,421.7C575.0,422.4 576.4,423.0 577.7,423.7C579.0,424.3 580.4,425.0 581.7,425.7C583.0,426.3 584.4,427.0 585.7,427.6C587.0,428.3 588.4,428.9 589.7,429.6C591.0,430.2 592.4,430.8 593.7,431.5C595.0,432.1 596.4,432.8 597.7,433.4C599.0,434.1 600.4,434.7 601.7,435.3C603.0,436.0 604.4,436.6 605.7,437.2C607.0,437.9 608.4,438.5 609.7,439.1C611.0,439.7 612.4,440.4 613.7,441.0C615.0,441.6 616.4,442.2 617.7,442.9C619.0,443.5 620.4,444.1 621.7,444.7C623.0,445.3 624.4,445.9 625.7,446.5C627.0,447.2 628.4,447.8 629.7,448.4C631.0,449.0 632.4,449.6 633.7,450.2C635.0,450.8 636.4,451.4 637.7,452.0C639.0,452.6 640.4,453.2 641.7,453.8C643.0,454.4 644.4,454.9 645.7,455.5C647.0,456.1 648.4,456.7 649.7,457.3C651.0,457.9 652.4,458.4 653.7,459.0C655.0,459.6 656.4,460.2 657.7,460.7C659.0,461.3 660.4,461.9 661.7,462.4C663.0,463.0 664.4,463.6 665.7,464.1C667.0,464.7 668.4,465.3 669.7,465.8C671.0,466.4 672.4,466.9 673.7,467.5C675.0,468.0 676.4,468.5 677.7,469.1C679.0,469.6 680.4,470.2 681.7,470.7C683.0,471.2 684.4,471.8 685.7,472.3C687.0,472.8 688.4,473.4 689.7,473.9C691.0,474.4 692.4,474.9 693.7,475.4C695.0,475.9 696.9,476.6 697.5,476.9" stroke="#00bfbf"/>
<path d="M125.7,94.3C126.4,95.0 128.4,97.1 129.7,98.5C131.0,99.9 132.4,101.3 133.7,102.6C135.0,104.0 136.4,105.4 137.7,106.7C139.0,108.1 140.4,109.4 141.7,110.8C143.0,112.1 144.4,113.5 145.7,114.8C147.0,116.1 148.4,117.5 149.7,118.8C151.0,120.1 152.4,121.4 153.7,122.7C155.0,124.0 156.4,125.3 157.7,126.6C159.0,127.9 160.4,129.2 161.7,130.5C163.0,131.8 164.4,133.1 165.7,134.3C167.0,135.6 168.4,136.9 169.7,138.1C171.0,139.4 172.4,140.6 173.7,141.9C175.0,143.1 176.4,144.4 177.7,145.6C179.0,146.9 180.4,148.1 181.7,149.3C183.0,150.5 184.4,151.8 185.7,153.0C187.0,154.2 188.4,155.4 189.7,156.6C191.0,157.8 192.4,159.0 193.7,160.2C195.0,161.4 196.4,162.6 197.7,163.7C199.0,164.9 200.4,166.1 201.7,167.3C203.0,168.4 204.4,169.6 205.7,170.8C207.0,171.9 208.4,173.1 209.7,174.2C211.0,175.4 212.4,176.5 213.7,177.6C215.0,178.8 216.4,179.9 217.7,181.0C219.0,182.2 220.4,183.3 221.7,184.4C223.0,185.5 224.4,186.6 225.7,187.7C227.0,188.8 228.4,189.9 229.7,191.0C231.0,192.1 232.4,193.2 233.7,194.3C235.0,195.4 236.4,196.5 237.7,197.5C239.0,198.6 240.4,199.7 241.7,200.8C243.0,201.8 244.4,202.9 245.7,203.9C247.0,205.0 248.4,206.0 249.7,207.1C251.0,208.1 252.4,209.2 253.7,210.2C255.0,211.2 256.4,212.3 257.7,213.3C259.0,214.3 260.4,215.4 261.7,216.4C263.0,217.4 264.4,218.4 265.7,219.4C267.0,220.4 268.4,221.4 269.7,222.4C271.0,223.4 272.4,224.4 273.7,225.4C275.0,226.4 276.4,227.4 277.7,228.4C279.0,229.4 280.4,230.3 281.7,231.3C283.0,232.3 284.4,233.3 285.7,234.2C287.0,235.2 288.4,236.1 289.7,237.1C291.0,238.1 292.4,239.0 293.7,240.0C295.0,240.9 296.4,241.9 297.7,242.8C299.0,243.7 300.4,244.7 301.7,245.6C303.0,246.5 304.4,247.5 305.7,248.4C307.0,249.3 308.4,250.2 309.7,251.2C311.0,252.1 312.4,253.0 313.7,253.9C315.0,254.8 316.4,255.7 317.7,256.6C319.0,257.5 320.4,258.4 321.7,259.3C323.0,260.2 324.4,261.1 325.7,262.0C327.0,262.9 328.4,263.8 329.7,264.7C331.0,265.5 332.4,266.4 333.7,267.3C335.0,268.2 336.4,269.0 337.7,269.9C339.0,270.8 340.4,271.6 341.7,272.5C343.0,273.4 344.4,274.2 345.7,275.1C347.0,275.9 348.4,276.8 349.7,277.6C351.0,278.5 352.4,279.3 353.7,280.2C355.0,281.0 356.4,281.9 357.7,282.7C359.0,283.5 360.4,284.4 361.7,285.2C363.0,286.0 364.4,286.8 365.7,287.7C367.0,288.5 368.4,289.3 369.7,290.1C371.0,291.0 372.4,291.8 373.7,292.6C375.0,293.4 376.4,294.2 377.7,295.0C379.0,295.8 380.4,296.6 381.7,297.4C383.0,298.2 384.4,299.0 385.7,299.8C387.0,300.6 388.4,301.4 389.7,302.2C391.0,303.0 392.4,303.8 393.7,304.6C395.0,305.4 396.4,306.1 397.7,306.9C399.0,307.7 400.4,308.5 401.7,309.3C403.0,310.0 404.4,310.8 405.7,311.6C407.0,312.4 408.4,313.1 409.7,313.9C411.0,314.7 412.4,315.4 413.7,316.2C415.0,317.0 416.4,317.7 417.7,318.5C419.0,319.2 420.4,320.0 421.7,320.7C423.0,321.5 424.4,322.2 425.7,323.0C427.0,323.7 428.4,324.5 429.7,325.2C431.0,326.0 432.4,326.7 433.7,327.5C435.0,328.2 436.4,328.9 437.7,329.7C439.0,330.4 440.4,331.2 441.7,331.9C443.0,332.6 444.4,333.3 445.7,334.1C447.0,334.8 448.4,335.5 449.7,336.3C451.0,337.0 452.4,337.7 453.7,338.4C455.0,339.1 456.4,339.9 457.7,340.6C459.0,341.3 460.4,342.0 461.7,342.7C463.0,343.4 464.4,344.2 465.7,344.9C467.0,345.6 468.4,346.3 469.7,347.0C471.0,347.7 472.4,348.4 473.7,349.1C475.0,349.8 476.4,350.5 477.7,351.2C479.0,351.9 480.4,352.6 481.7,353.3C483.0,354.0 484.4,354.7 485.7,355.4C487.0,356.1 488.4,356.8 489.7,357.5C491.0,358.1 492.4,358.8 493.7,359.5C495.0,360.2 496.4,360.9 497.7,361.6C499.0,362.3 500.4,362.9 501.7,363.6C503.0,364.3 504.4,365.0 505.7,365.7C507.0,366.3 508.4,367.0 509.7,367.7C511.0,368.3 512.4,369.0 513.7,369.7C515.0,370.4 516.4,371.0 517.7,371.7C519.0,372.4 520.4,373.0 521.7,373.7C523.0,374.4 524.4,375.0 525.7,375.7C527.0,376.3 528.4,377.0 529.7,377.7C531.0,378.3 532.4,379.0 533.7,379.6C535.0,380.3 536.4,380.9 537.7,381.6C539.0,382.2 540.4,382.9 541.7,383.5C543.0,384.2 544.4,384.8 545.7,385.5C547.0,386.1 548.4,386.7 549.7,387.4C551.0,388.0 552.4,388.7 553.7,389.3C555.0,389.9 556.4,390.6 557.7,391.2C559.0,391.8 560.4,392.5 561.7,393.1C563.0,393.7 564.4,394.4 565.7,395.0C567.0,395.6 568.4,396.2 569.7,396.9C571.0,397.5 572.4,398.1 573.7,398.7C575.0,399.3 576.4,400.0 577.7,400.6C579.0,401.2 580.4,401.8 581.7,402.4C583.0,403.0 584.4,403.6 585.7,404.2C587.0,404.9 588.4,405.5 589.7,406.1C591.0,406.7 592.4,407.3 593.7,407.9C595.0,408.5 596.4,409.1 597.7,409.7C599.0,410.3 600.4,410.9 601.7,411.5C603.0,412.0 604.4,412.6 605.7,413.2C607.0,413.8 608.4,414.4 609.7,415.0C611.0,415.6 612.4,416.1 613.7,416.7C615.0,417.3 616.4,417.9 617.7,418.4C619.0,419.0 620.4,419.6 621.7,420.2C623.0,420.7 624.4,421.3 625.7,421.9C627.0,422.4 628.4,423.0 629.7,423.5C631.0,424.1 632.4,424.7 633.7,425.2C635.0,425.8 636.4,426.3 637.7,426.9C639.0,427.4 640.4,428.0 641.7,428.5C643.0,429.0 644.4,429.6 645.7,430.1C647.0,430.7 648.4,431.2 649.7,431.7C651.0,432.2 652.4,432.8 653.7,433.3C655.0,433.8 656.4,434.3 657.7,434.9C659.0,435.4 660.4,435.9 661.7,436.4C663.0,436.9 664.4,437.4 665.7,437.9C667.0,438.4 668.4,438.9 669.7,439.4C671.0,439.9 672.4,440.4 673.7,440.9C675.0,441.4 676.4,441.9 677.7,442.4C679.0,442.9 680.4,443.3 681.7,443.8C683.0,444.3 684.4,444.8 685.7,445.2C687.0,445.7 688.4,446.1 689.7,446.6C691.0,447.1 692.4,447.5 693.7,448.0C695.0,448.4 696.9,449.0 697.5,449.2" stroke="#bf00bf"/>
</g>
</g>
<rect x="92.4" y="45.2" width="605.1" height="583.8" fill="none" stroke="#000" stroke-width="1.3"/>
<path d="M92.4,629.0v-5.5M92.4,45.2v5.5M159.6,629.0v-5.5M159.6,45.2v5.5M226.9,629.0v-5.5M226.9,45.2v5.5M294.1,629.0v-5.5M294.1,45.2v5.5M361.3,629.0v-5.5M361.3,45.2v5.5M428.6,629.0v-5.5M428.6,45.2v5.5M495.8,629.0v-5.5M495.8,45.2v5.5M563.0,629.0v-5.5M563.0,45.2v5.5M630.3,629.0v-5.5M630.3,45.2v5.5M697.5,629.0v-5.5M697.5,45.2v5.5M92.4,629.0h5.5M697.5,629.0h-5.5M92.4,603.9h2.8M697.5,603.9h-2.8M92.4,589.2h2.8M697.5,589.2h-2.8M92.4,578.8h2.8M697.5,578.8h-2.8M92.4,570.7h2.8M697.5,570.7h-2.8M92.4,564.1h2.8M697.5,564.1h-2.8M92.4,558.5h2.8M697.5,558.5h-2.8M92.4,553.7h2.8M697.5,553.7h-2.8M92.4,549.4h2.8M697.5,549.4h-2.8M92.4,545.6h5.5M697.5,545.6h-5.5M92.4,520.5h2.8M697.5,520.5h-2.8M92.4,505.8h2.8M697.5,505.8h-2.8M92.4,495.4h2.8M697.5,495.4h-2.8M92.4,487.3h2.8M697.5,487.3h-2.8M92.4,480.7h2.8M697.5,480.7h-2.8M92.4,475.1h2.8M697.5,475.1h-2.8M92.4,470.3h2.8M697.5,470.3h-2.8M92.4,466.0h2.8M697.5,466.0h-2.8M92.4,462.2h5.5M697.5,462.2h-5.5M92.4,437.1h2.8M697.5,437.1h-2.8M92.4,422.4h2.8M697.5,422.4h-2.8M92.4,412.0h2.8M697.5,412.0h-2.8M92.4,403.9h2.8M697.5,403.9h-2.8M92.4,397.3h2.8M697.5,397.3h-2.8M92.4,391.7h2.8M697.5,391.7h-2.8M92.4,386.9h2.8M697.5,386.9h-2.8M92.4,382.6h2.8M697.5,382.6h-2.8M92.4,378.8h5.5M697.5,378.8h-5.5M92.4,353.7h2.8M697.5,353.7h-2.8M92.4,339.0h2.8M697.5,339.0h-2.8M92.4,328.6h2.8M697.5,328.6h-2.8M92.4,320.5h2.8M697.5,320.5h-2.8M92.4,313.9h2.8M697.5,313.9h-2.8M92.4,308.3h2.8M697.5,308.3h-2.8M92.4,303.5h2.8M697.5,303.5h-2.8M92.4,299.2h2.8M697.5,299.2h-2.8M92.4,295.4h5.5M697.5,295.4h-5.5M92.4,270.3h2.8M697.5,270.3h-2.8M92.4,255.6h2.8M697.5,255.6h-2.8M92.4,245.2h2.8M697.5,245.2h-2.8M92.4,237.1h2.8M697.5,237.1h-2.8M92.4,230.5h2.8M697.5,230.5h-2.8M92.4,224.9h2.8M697.5,224.9h-2.8M92.4,220.1h2.8M697.5,220.1h-2.8M92.4,215.8h2.8M697.5,215.8h-2.8M92.4,212.0h5.5M697.5,212.0h-5.5M92.4,186.9h2.8M697.5,186.9h-2.8M92.4,172.2h2.8M697.5,172.2h-2.8M92.4,161.8h2.8M697.5,161.8h-2.8M92.4,153.7h2.8M697.5,153.7h-2.8M92.4,147.1h2.8M697.5,147.1h-2.8M92.4,141.5h2.8M697.5,141.5h-2.8M92.4,136.7h2.8M697.5,136.7h-2.8M92.4,132.4h2.8M697.5,132.4h-2.8M92.4,128.6h5.5M697.5,128.6h-5.5M92.4,103.5h2.8M697.5,103.5h-2.8M92.4,88.8h2.8M697.5,88.8h-2.8M92.4,78.4h2.8M697.5,78.4h-2.8M92.4,70.3h2.8M697.5,70.3h-2.8M92.4,63.7h2.8M697.5,63.7h-2.8M92.4,58.1h2.8M697.5,58.1h-2.8M92.4,53.3h2.8M697.5,53.3h-2.8M92.4,49.0h2.8M697.5,49.0h-2.8M92.4,45.2h5.5M697.5,45.2h-5.5" stroke="#000" stroke-width="1" fill="none"/>
<rect x="345.2" y="52.8" width="346.0" height="132.5" fill="#fff" stroke="#000" stroke-width="1.3"/>
<line x1="354" y1="66.9" x2="373.5" y2="66.9" stroke="#ff0000" stroke-width="1.4"/>
<line x1="354" y1="90.8" x2="373.5" y2="90.8" stroke="#111" stroke-width="1.4" stroke-dasharray="6.5 6.5"/>
<line x1="354" y1="114.8" x2="373.5" y2="114.8" stroke="#111" stroke-width="1.4" stroke-dasharray="6.5 6.5"/>
<line x1="354" y1="142.3" x2="373.5" y2="142.3" stroke="#0000ff" stroke-width="1.4"/>
<line x1="354" y1="168.6" x2="373.5" y2="168.6" stroke="#008000" stroke-width="1.4"/>
<line x1="534.9" y1="66.7" x2="554.4" y2="66.7" stroke="#ff0000" stroke-width="1.4"/>
<line x1="534.9" y1="90.9" x2="554.4" y2="90.9" stroke="#00bfbf" stroke-width="1.4"/>
<line x1="534.9" y1="115.6" x2="554.4" y2="115.6" stroke="#bf00bf" stroke-width="1.4"/>
<rect x="530.9" y="138.3" width="27" height="12.1" fill="#7fbf7f"/>
<rect x="530.9" y="162.2" width="27" height="11.8" fill="#ffff7f"/>
<clipPath id="clipB"><rect x="905.2" y="50.8" width="564.3" height="563.7"/></clipPath>
<g clip-path="url(#clipB)" fill="none" stroke-width="3.6" stroke-linejoin="round">
<path d="M904.6,362.4C911.2,362.8 930.4,363.6 944.5,364.6C958.6,365.6 974.2,366.9 989.1,368.2C1004.0,369.5 1016.8,370.5 1033.6,372.6C1050.4,374.7 1074.8,377.9 1090.0,380.6C1105.2,383.3 1113.2,385.5 1124.8,388.6C1136.4,391.7 1150.3,396.5 1159.5,399.1C1168.7,401.7 1172.7,401.5 1180.0,404.3C1187.3,407.1 1195.6,411.9 1203.4,416.0C1211.2,420.1 1218.9,423.5 1226.7,428.7C1234.5,433.9 1242.6,440.1 1250.1,447.2C1257.6,454.3 1265.3,463.2 1271.5,471.5C1277.7,479.8 1283.2,489.2 1287.1,496.8C1291.0,504.4 1292.5,509.2 1294.7,517.3C1296.9,525.3 1298.4,535.8 1300.2,545.1C1302.0,554.4 1304.2,563.7 1305.8,573.0C1307.4,582.3 1309.1,593.8 1310.0,600.8C1310.9,607.8 1311.1,612.6 1311.3,615.0" stroke="#0000ff" stroke-dasharray="4.6 4.6"/>
<path d="M904.6,305.2C911.2,306.0 930.4,307.7 944.5,309.8C958.6,311.9 974.2,314.2 989.1,317.8C1004.0,321.4 1020.2,326.4 1033.6,331.2C1047.0,336.0 1059.9,342.1 1069.3,346.8C1078.7,351.5 1084.2,354.7 1090.0,359.1C1095.8,363.5 1099.3,367.8 1103.9,373.0C1108.5,378.2 1113.8,384.6 1117.8,390.4C1121.8,396.2 1125.3,401.4 1128.2,407.8C1131.1,414.2 1133.2,421.7 1135.2,428.6C1137.2,435.6 1139.1,442.9 1140.4,449.5C1141.7,456.1 1142.4,462.1 1143.2,468.0C1144.0,473.9 1144.6,476.8 1145.5,485.0C1146.4,493.2 1147.5,505.0 1148.7,517.3C1149.9,529.6 1151.7,547.4 1152.8,559.0C1153.9,570.6 1154.6,577.6 1155.6,586.9C1156.6,596.2 1158.4,610.3 1159.0,615.0" stroke="#ff0000" stroke-dasharray="4.6 4.6"/>
<path d="M904.6,245.5C906.9,246.5 914.0,249.2 918.3,251.3C922.6,253.4 926.5,255.6 930.6,258.3C934.7,261.0 938.7,264.2 942.8,267.5C946.9,270.8 951.2,274.4 955.0,278.2C958.8,282.0 962.4,286.3 965.7,290.4C969.0,294.5 972.5,298.9 974.9,302.7C977.3,306.5 978.8,308.9 980.1,313.4C981.4,317.9 981.5,321.0 982.6,329.9C983.7,338.8 985.8,353.2 986.9,366.8C988.0,380.4 988.2,396.5 989.1,411.4C990.0,426.2 991.1,441.1 992.2,455.9C993.3,470.7 994.7,485.5 995.8,500.4C996.9,515.2 997.8,530.1 998.9,545.0C1000.0,559.9 1001.4,577.8 1002.4,589.5C1003.4,601.2 1004.6,610.8 1005.1,615.0" stroke="#000" stroke-dasharray="4.6 4.6"/>
<path d="M904.6,177.9C911.5,178.3 933.9,179.5 945.9,180.3C957.9,181.1 966.0,181.7 976.5,182.5C987.0,183.3 1000.3,184.5 1008.8,185.2C1017.3,185.9 1021.2,186.1 1027.5,186.9C1033.8,187.7 1040.0,188.9 1046.3,189.8C1052.6,190.8 1057.8,191.5 1065.1,192.6C1072.4,193.7 1081.8,194.9 1090.1,196.3C1098.4,197.8 1106.8,199.6 1115.2,201.3C1123.6,203.0 1134.4,205.1 1140.2,206.3C1146.0,207.6 1144.2,206.9 1150.0,208.8C1155.8,210.7 1166.7,213.9 1175.0,217.5C1183.3,221.1 1191.8,225.7 1200.1,230.1C1208.4,234.5 1217.6,239.2 1225.1,243.8C1232.6,248.4 1239.2,253.0 1245.1,257.6C1250.9,262.2 1255.2,266.0 1260.2,271.4C1265.2,276.8 1270.6,283.7 1275.2,290.2C1279.8,296.7 1284.4,303.9 1287.7,310.2C1291.0,316.4 1293.1,321.9 1295.2,327.7C1297.3,333.5 1298.9,338.1 1300.2,345.2C1301.5,352.2 1302.4,363.2 1303.2,370.0C1304.0,376.8 1304.3,380.4 1305.2,386.0C1306.1,391.6 1307.3,397.3 1308.5,403.4C1309.7,409.5 1310.5,416.3 1312.4,422.8C1314.3,429.3 1316.5,436.2 1320.0,442.3C1323.5,448.4 1326.8,453.2 1333.3,459.6C1339.8,466.0 1349.4,474.2 1359.2,480.9C1369.0,487.6 1381.3,494.3 1392.3,499.8C1403.3,505.3 1412.5,508.8 1425.4,513.9C1438.3,519.0 1462.2,527.7 1469.5,530.5" stroke="#0000ff"/>
<path d="M904.6,155.3C908.9,155.8 922.2,157.4 930.6,158.3C939.0,159.2 946.3,159.4 955.0,160.5C963.7,161.6 973.4,162.9 982.6,164.8C991.8,166.7 1002.6,169.9 1010.0,171.9C1017.4,173.9 1019.9,174.0 1027.0,176.6C1034.1,179.2 1044.2,183.6 1052.6,187.5C1061.0,191.4 1070.2,195.0 1077.6,200.1C1085.0,205.2 1091.5,212.4 1097.0,218.0C1102.5,223.6 1106.3,228.3 1110.9,233.9C1115.5,239.5 1120.8,244.9 1124.8,251.3C1128.8,257.7 1132.6,265.2 1135.2,272.2C1137.8,279.1 1139.0,285.5 1140.4,293.0C1141.9,300.5 1142.7,307.5 1143.9,317.4C1145.1,327.2 1146.4,342.2 1147.4,352.1C1148.4,362.0 1148.9,367.2 1149.8,376.5C1150.7,385.8 1151.3,398.5 1152.6,407.8C1153.9,417.1 1155.5,424.6 1157.8,432.1C1160.1,439.6 1162.9,445.8 1166.5,453.0C1170.1,460.2 1173.8,468.4 1179.3,475.4C1184.8,482.4 1192.9,489.4 1199.5,494.9C1206.1,500.4 1211.4,503.4 1218.9,508.5C1226.4,513.6 1235.7,520.5 1244.6,525.7C1253.5,530.9 1262.8,534.9 1272.4,539.6C1282.1,544.3 1288.8,548.1 1302.5,554.1C1316.2,560.1 1336.4,568.7 1354.5,575.4C1372.6,582.1 1392.0,587.9 1411.2,594.3C1430.4,600.6 1459.8,610.3 1469.5,613.5" stroke="#ff0000"/>
<path d="M904.6,127.7C906.9,128.2 914.0,129.4 918.3,130.8C922.6,132.2 926.5,133.6 930.6,136.0C934.7,138.4 938.7,141.5 942.8,145.2C946.9,148.9 951.2,154.0 955.0,158.3C958.8,162.6 962.4,167.0 965.7,171.2C969.0,175.4 972.5,179.8 974.9,183.4C977.3,187.0 978.7,189.0 980.1,192.6C981.5,196.2 982.3,199.2 983.2,204.8C984.1,210.4 984.8,216.5 985.6,226.2C986.4,235.9 987.2,251.7 987.8,262.9C988.4,274.1 988.8,282.3 989.3,293.5C989.8,304.7 990.1,320.5 990.5,329.9C990.9,339.3 991.1,340.1 991.6,350.0C992.1,359.9 992.6,375.1 993.5,389.0C994.4,402.9 996.0,422.5 997.1,433.6C998.2,444.8 998.9,448.8 1000.2,455.9C1001.5,462.9 1002.8,469.6 1004.7,475.9C1006.6,482.2 1008.4,487.5 1011.4,493.8C1014.4,500.1 1017.3,506.7 1022.5,513.8C1027.7,520.8 1034.7,527.9 1042.5,536.1C1050.3,544.3 1059.7,554.3 1069.3,562.8C1078.9,571.3 1091.2,580.6 1100.0,586.9C1108.8,593.2 1114.7,596.0 1122.2,600.8C1129.7,605.6 1141.2,613.0 1145.0,615.5" stroke="#000"/>
</g>
<rect x="905.2" y="50.8" width="564.3" height="563.7" fill="none" stroke="#000" stroke-width="2.4"/>
<path d="M936.6,614.5v-6.5M936.6,50.8v6.5M967.9,614.5v-6.5M967.9,50.8v6.5M999.2,614.5v-12.5M999.2,50.8v12.5M1030.6,614.5v-6.5M1030.6,50.8v6.5M1062.0,614.5v-6.5M1062.0,50.8v6.5M1093.3,614.5v-6.5M1093.3,50.8v6.5M1124.7,614.5v-6.5M1124.7,50.8v6.5M1156.0,614.5v-12.5M1156.0,50.8v12.5M1187.3,614.5v-6.5M1187.3,50.8v6.5M1218.7,614.5v-6.5M1218.7,50.8v6.5M1250.1,614.5v-6.5M1250.1,50.8v6.5M1281.4,614.5v-6.5M1281.4,50.8v6.5M1312.8,614.5v-12.5M1312.8,50.8v12.5M1344.1,614.5v-6.5M1344.1,50.8v6.5M1375.5,614.5v-6.5M1375.5,50.8v6.5M1406.8,614.5v-6.5M1406.8,50.8v6.5M1438.2,614.5v-6.5M1438.2,50.8v6.5M905.2,586.2h6.4M1469.5,586.2h-6.4M905.2,569.7h6.4M1469.5,569.7h-6.4M905.2,557.9h6.4M1469.5,557.9h-6.4M905.2,548.8h6.4M1469.5,548.8h-6.4M905.2,541.4h6.4M1469.5,541.4h-6.4M905.2,535.1h6.4M1469.5,535.1h-6.4M905.2,529.7h6.4M1469.5,529.7h-6.4M905.2,524.8h6.4M1469.5,524.8h-6.4M905.2,520.5h12.5M1469.5,520.5h-12.5M905.2,492.3h6.4M1469.5,492.3h-6.4M905.2,475.7h6.4M1469.5,475.7h-6.4M905.2,464.0h6.4M1469.5,464.0h-6.4M905.2,454.9h6.4M1469.5,454.9h-6.4M905.2,447.4h6.4M1469.5,447.4h-6.4M905.2,441.2h6.4M1469.5,441.2h-6.4M905.2,435.7h6.4M1469.5,435.7h-6.4M905.2,430.9h6.4M1469.5,430.9h-6.4M905.2,426.6h12.5M1469.5,426.6h-12.5M905.2,398.3h6.4M1469.5,398.3h-6.4M905.2,381.8h6.4M1469.5,381.8h-6.4M905.2,370.0h6.4M1469.5,370.0h-6.4M905.2,360.9h6.4M1469.5,360.9h-6.4M905.2,353.5h6.4M1469.5,353.5h-6.4M905.2,347.2h6.4M1469.5,347.2h-6.4M905.2,341.8h6.4M1469.5,341.8h-6.4M905.2,336.9h6.4M1469.5,336.9h-6.4M905.2,332.7h12.5M1469.5,332.7h-12.5M905.2,304.4h6.4M1469.5,304.4h-6.4M905.2,287.8h6.4M1469.5,287.8h-6.4M905.2,276.1h6.4M1469.5,276.1h-6.4M905.2,267.0h6.4M1469.5,267.0h-6.4M905.2,259.5h6.4M1469.5,259.5h-6.4M905.2,253.3h6.4M1469.5,253.3h-6.4M905.2,247.8h6.4M1469.5,247.8h-6.4M905.2,243.0h6.4M1469.5,243.0h-6.4M905.2,238.7h12.5M1469.5,238.7h-12.5M905.2,210.4h6.4M1469.5,210.4h-6.4M905.2,193.9h6.4M1469.5,193.9h-6.4M905.2,182.1h6.4M1469.5,182.1h-6.4M905.2,173.0h6.4M1469.5,173.0h-6.4M905.2,165.6h6.4M1469.5,165.6h-6.4M905.2,159.3h6.4M1469.5,159.3h-6.4M905.2,153.9h6.4M1469.5,153.9h-6.4M905.2,149.0h6.4M1469.5,149.0h-6.4M905.2,144.8h12.5M1469.5,144.8h-12.5M905.2,116.5h6.4M1469.5,116.5h-6.4M905.2,99.9h6.4M1469.5,99.9h-6.4M905.2,88.2h6.4M1469.5,88.2h-6.4M905.2,79.1h6.4M1469.5,79.1h-6.4M905.2,71.6h6.4M1469.5,71.6h-6.4M905.2,65.4h6.4M1469.5,65.4h-6.4M905.2,59.9h6.4M1469.5,59.9h-6.4M905.2,55.1h6.4M1469.5,55.1h-6.4" stroke="#000" stroke-width="2" fill="none"/>
<line x1="1112.3" y1="116.5" x2="1155.6" y2="116.5" stroke="#000" stroke-width="3.4"/>
<line x1="1176.8" y1="116.5" x2="1219" y2="116.5" stroke="#000" stroke-width="3.4" stroke-dasharray="6 3"/>
<line x1="1112.3" y1="153.7" x2="1155.6" y2="153.7" stroke="#ff0000" stroke-width="3.4"/>
<line x1="1176.8" y1="153.7" x2="1219" y2="153.7" stroke="#ff0000" stroke-width="3.4" stroke-dasharray="6 3"/>
<line x1="1112.3" y1="194.0" x2="1155.6" y2="194.0" stroke="#0000ff" stroke-width="3.4"/>
<line x1="1176.8" y1="194.0" x2="1219" y2="194.0" stroke="#0000ff" stroke-width="3.4" stroke-dasharray="6 3"/>
<text transform="translate(6.22,29.80) scale(1.0337,1.0418)" font-family='"Liberation Sans", "DejaVu Sans", sans-serif' font-size="33" font-weight="bold" font-style="normal" fill="#000" xml:space="preserve">A</text>
<text transform="translate(777.72,29.80) scale(1.0150,1.0418)" font-family='"Liberation Sans", "DejaVu Sans", sans-serif' font-size="33" font-weight="bold" font-style="normal" fill="#000" xml:space="preserve">B</text>
<text transform="translate(83.94,645.46) scale(0.8853,0.9600)" font-family='"DejaVu Sans", "Liberation Sans", sans-serif' font-size="13" font-weight="normal" font-style="normal" fill="#000" xml:space="preserve">0.5</text>
<text transform="translate(150.73,645.46) scale(0.8853,0.9600)" font-family='"DejaVu Sans", "Liberation Sans", sans-serif' font-size="13" font-weight="normal" font-style="normal" fill="#000" xml:space="preserve">1.0</text>
<text transform="translate(218.07,645.34) scale(0.8853,0.9600)" font-family='"DejaVu Sans", "Liberation Sans", sans-serif' font-size="13" font-weight="normal" font-style="normal" fill="#000" xml:space="preserve">1.5</text>
<text transform="translate(285.41,645.46) scale(0.8853,0.9600)" font-family='"DejaVu Sans", "Liberation Sans", sans-serif' font-size="13" font-weight="normal" font-style="normal" fill="#000" xml:space="preserve">2.0</text>
<text transform="translate(352.76,645.46) scale(0.8853,0.9600)" font-family='"DejaVu Sans", "Liberation Sans", sans-serif' font-size="13" font-weight="normal" font-style="normal" fill="#000" xml:space="preserve">2.5</text>
<text transform="translate(419.88,645.46) scale(0.8853,0.9600)" font-family='"DejaVu Sans", "Liberation Sans", sans-serif' font-size="13" font-weight="normal" font-style="normal" fill="#000" xml:space="preserve">3.0</text>
<text transform="translate(487.23,645.46) scale(0.8853,0.9600)" font-family='"DejaVu Sans", "Liberation Sans", sans-serif' font-size="13" font-weight="normal" font-style="normal" fill="#000" xml:space="preserve">3.5</text>
<text transform="translate(554.57,645.46) scale(0.8853,0.9600)" font-family='"DejaVu Sans", "Liberation Sans", sans-serif' font-size="13" font-weight="normal" font-style="normal" fill="#000" xml:space="preserve">4.0</text>
<text transform="translate(621.91,645.34) scale(0.8853,0.9600)" font-family='"DejaVu Sans", "Liberation Sans", sans-serif' font-size="13" font-weight="normal" font-style="normal" fill="#000" xml:space="preserve">4.5</text>
<text transform="translate(688.81,645.46) scale(0.8853,0.9600)" font-family='"DejaVu Sans", "Liberation Sans", sans-serif' font-size="13" font-weight="normal" font-style="normal" fill="#000" xml:space="preserve">5.0</text>
<text transform="translate(64.47,634.61) scale(0.8800,1.0219)" font-family='"DejaVu Sans", "Liberation Sans", sans-serif' font-size="13" font-weight="normal" font-style="normal" fill="#000" xml:space="preserve">10<tspan font-size="9.5" dy="-5.5">-6</tspan></text>
<text transform="translate(64.58,551.08) scale(0.8800,1.0219)" font-family='"DejaVu Sans", "Liberation Sans", sans-serif' font-size="13" font-weight="normal" font-style="normal" fill="#000" xml:space="preserve">10<tspan font-size="9.5" dy="-5.5">-5</tspan></text>
<text transform="translate(64.47,467.68) scale(0.8800,1.0219)" font-family='"DejaVu Sans", "Liberation Sans", sans-serif' font-size="13" font-weight="normal" font-style="normal" fill="#000" xml:space="preserve">10<tspan font-size="9.5" dy="-5.5">-4</tspan></text>
<text transform="translate(64.58,384.41) scale(0.8800,1.0219)" font-family='"DejaVu Sans", "Liberation Sans", sans-serif' font-size="13" font-weight="normal" font-style="normal" fill="#000" xml:space="preserve">10<tspan font-size="9.5" dy="-5.5">-3</tspan></text>
<text transform="translate(64.69,301.01) scale(0.8800,1.0219)" font-family='"DejaVu Sans", "Liberation Sans", sans-serif' font-size="13" font-weight="normal" font-style="normal" fill="#000" xml:space="preserve">10<tspan font-size="9.5" dy="-5.5">-2</tspan></text>
<text transform="translate(64.58,217.48) scale(0.8800,1.0219)" font-family='"DejaVu Sans", "Liberation Sans", sans-serif' font-size="13" font-weight="normal" font-style="normal" fill="#000" xml:space="preserve">10<tspan font-size="9.5" dy="-5.5">-1</tspan></text>
<text transform="translate(67.26,134.61) scale(0.8800,1.0219)" font-family='"DejaVu Sans", "Liberation Sans", sans-serif' font-size="13" font-weight="normal" font-style="normal" fill="#000" xml:space="preserve">10<tspan font-size="9.5" dy="-5.5">0</tspan></text>
<text transform="translate(67.32,50.58) scale(0.8800,1.0219)" font-family='"DejaVu Sans", "Liberation Sans", sans-serif' font-size="13" font-weight="normal" font-style="normal" fill="#000" xml:space="preserve">10<tspan font-size="9.5" dy="-5.5">1</tspan></text>
<text transform="translate(353.34,673.76) scale(0.9683,1.1674)" font-family='"Liberation Serif", "DejaVu Serif", serif' font-size="24" font-weight="normal" font-style="italic" fill="#000" xml:space="preserve">M<tspan font-size="17" dy="4">Z</tspan><tspan font-size="17" dy="-3">′</tspan><tspan dy="-1" dx="2" font-style="normal">(</tspan>TeV<tspan font-style="normal">)</tspan></text>
<text transform="translate(54.10,381.82) scale(1.0667,1.2472) rotate(-90)" font-family='"Liberation Serif", "DejaVu Serif", serif' font-size="21" font-weight="normal" font-style="normal" fill="#000" xml:space="preserve"><tspan font-style="italic">σ</tspan> B [pb]</text>
<text transform="translate(387.37,72.40) scale(0.8647,1.0043)" font-family='"Liberation Serif", "DejaVu Serif", serif' font-size="16" font-weight="normal" font-style="normal" fill="#000" stroke="#000" stroke-width="0.35" xml:space="preserve">Observedlimit</text>
<text transform="translate(387.48,95.28) scale(0.8838,0.9133)" font-family='"Liberation Serif", "DejaVu Serif", serif' font-size="16" font-weight="normal" font-style="normal" fill="#000" stroke="#000" stroke-width="0.35" xml:space="preserve">Expectedlimit</text>
<text transform="translate(387.57,120.04) scale(0.8691,1.0545)" font-family='"Liberation Serif", "DejaVu Serif", serif' font-size="16" font-weight="normal" font-style="normal" fill="#000" stroke="#000" stroke-width="0.35" xml:space="preserve">Z′<tspan font-size="10.5" dx="-2.5" dy="4">SSM<tspan font-size="7" dy="1.5">3</tspan></tspan><tspan dy="-5.5">RES.  NLO</tspan></text>
<text transform="translate(387.66,147.76) scale(0.8757,1.0200)" font-family='"Liberation Serif", "DejaVu Serif", serif' font-size="16" font-weight="normal" font-style="normal" fill="#000" stroke="#000" stroke-width="0.35" xml:space="preserve">Z′<tspan font-size="11" dx="-2.5" dy="4">B − L</tspan><tspan dy="-4">, </tspan><tspan dx="3">g</tspan><tspan font-size="11" dy="2.5">B − L</tspan><tspan dy="-1" dx="2" font-size="19">=</tspan><tspan dy="-1.5" dx="2">0.</tspan><tspan dx="2.5">150</tspan></text>
<text transform="translate(387.66,173.47) scale(0.8757,1.0200)" font-family='"Liberation Serif", "DejaVu Serif", serif' font-size="16" font-weight="normal" font-style="normal" fill="#000" stroke="#000" stroke-width="0.35" xml:space="preserve">Z′<tspan font-size="11" dx="-2.5" dy="4">B − L</tspan><tspan dy="-4">, </tspan><tspan dx="3">g</tspan><tspan font-size="11" dy="2.5">B − L</tspan><tspan dy="-1" dx="2" font-size="19">=</tspan><tspan dy="-1.5" dx="2">0.</tspan><tspan dx="2.5">350</tspan></text>
<text transform="translate(568.11,72.97) scale(0.8757,1.0200)" font-family='"Liberation Serif", "DejaVu Serif", serif' font-size="16" font-weight="normal" font-style="normal" fill="#000" stroke="#000" stroke-width="0.35" xml:space="preserve">Z′<tspan font-size="11" dx="-2.5" dy="4">B − L</tspan><tspan dy="-4">, </tspan><tspan dx="3">g</tspan><tspan font-size="11" dy="2.5">B − L</tspan><tspan dy="-1" dx="2" font-size="19">=</tspan><tspan dy="-1.5" dx="2">0.</tspan><tspan dx="2.5">550</tspan></text>
<text transform="translate(568.16,98.37) scale(0.8757,1.0200)" font-family='"Liberation Serif", "DejaVu Serif", serif' font-size="16" font-weight="normal" font-style="normal" fill="#000" stroke="#000" stroke-width="0.35" xml:space="preserve">Z′<tspan font-size="11" dx="-2.5" dy="4">B − L</tspan><tspan dy="-4">, </tspan><tspan dx="3">g</tspan><tspan font-size="11" dy="2.5">B − L</tspan><tspan dy="-1" dx="2" font-size="19">=</tspan><tspan dy="-1.5" dx="2">0.</tspan><tspan dx="2.5">750</tspan></text>
<text transform="translate(568.16,124.06) scale(0.8757,1.0200)" font-family='"Liberation Serif", "DejaVu Serif", serif' font-size="16" font-weight="normal" font-style="normal" fill="#000" stroke="#000" stroke-width="0.35" xml:space="preserve">Z′<tspan font-size="11" dx="-2.5" dy="4">B − L</tspan><tspan dy="-4">, </tspan><tspan dx="3">g</tspan><tspan font-size="11" dy="2.5">B − L</tspan><tspan dy="-1" dx="2" font-size="19">=</tspan><tspan dy="-1.5" dx="2">0.</tspan><tspan dx="2.5">950</tspan></text>
<text transform="translate(567.67,149.33) scale(0.9175,0.9267)" font-family='"Liberation Serif", "DejaVu Serif", serif' font-size="16" font-weight="normal" font-style="normal" fill="#000" stroke="#000" stroke-width="0.35" xml:space="preserve">Expected <tspan dx="4">±1</tspan><tspan font-style="italic">σ</tspan></text>
<text transform="translate(567.67,173.42) scale(0.9175,0.9267)" font-family='"Liberation Serif", "DejaVu Serif", serif' font-size="16" font-weight="normal" font-style="normal" fill="#000" stroke="#000" stroke-width="0.35" xml:space="preserve">Expected <tspan dx="4">±2</tspan><tspan font-style="italic">σ</tspan></text>
<text transform="translate(973.99,657.74) scale(1.0294,1.0313)" font-family='"Liberation Sans", "DejaVu Sans", sans-serif' font-size="29" font-weight="normal" font-style="normal" fill="#000" xml:space="preserve">500</text>
<text transform="translate(1122.36,657.74) scale(1.0294,1.0313)" font-family='"Liberation Sans", "DejaVu Sans", sans-serif' font-size="29" font-weight="normal" font-style="normal" fill="#000" xml:space="preserve">1000</text>
<text transform="translate(1278.51,657.74) scale(1.0294,1.0313)" font-family='"Liberation Sans", "DejaVu Sans", sans-serif' font-size="29" font-weight="normal" font-style="normal" fill="#000" xml:space="preserve">1500</text>
<text transform="translate(1434.39,657.74) scale(1.0294,1.0313)" font-family='"Liberation Sans", "DejaVu Sans", sans-serif' font-size="29" font-weight="normal" font-style="normal" fill="#000" xml:space="preserve">2000</text>
<text transform="translate(851.07,61.44) scale(0.9931,1.0458)" font-family='"Liberation Sans", "DejaVu Sans", sans-serif' font-size="29" font-weight="normal" font-style="normal" fill="#000" xml:space="preserve">10</text>
<text transform="translate(891.56,45.87) scale(1.0811,1.0277)" font-family='"Liberation Sans", "DejaVu Sans", sans-serif' font-size="23" font-weight="normal" font-style="normal" fill="#000" xml:space="preserve">3</text>
<text transform="translate(851.07,155.49) scale(0.9931,1.0458)" font-family='"Liberation Sans", "DejaVu Sans", sans-serif' font-size="29" font-weight="normal" font-style="normal" fill="#000" xml:space="preserve">10</text>
<text transform="translate(891.42,139.80) scale(1.0811,1.0277)" font-family='"Liberation Sans", "DejaVu Sans", sans-serif' font-size="23" font-weight="normal" font-style="normal" fill="#000" xml:space="preserve">2</text>
<text transform="translate(851.22,249.09) scale(0.9931,1.0458)" font-family='"Liberation Sans", "DejaVu Sans", sans-serif' font-size="29" font-weight="normal" font-style="normal" fill="#000" xml:space="preserve">10</text>
<text transform="translate(865.91,343.54) scale(0.9931,1.0458)" font-family='"Liberation Sans", "DejaVu Sans", sans-serif' font-size="29" font-weight="normal" font-style="normal" fill="#000" xml:space="preserve">1</text>
<text transform="translate(839.87,437.74) scale(0.9931,1.0458)" font-family='"Liberation Sans", "DejaVu Sans", sans-serif' font-size="29" font-weight="normal" font-style="normal" fill="#000" xml:space="preserve">10</text>
<text transform="translate(839.87,531.69) scale(0.9931,1.0458)" font-family='"Liberation Sans", "DejaVu Sans", sans-serif' font-size="29" font-weight="normal" font-style="normal" fill="#000" xml:space="preserve">10</text>
<text transform="translate(839.87,625.64) scale(0.9931,1.0458)" font-family='"Liberation Sans", "DejaVu Sans", sans-serif' font-size="29" font-weight="normal" font-style="normal" fill="#000" xml:space="preserve">10</text>
<text transform="translate(881.67,410.97) scale(1.0811,1.0277)" font-family='"Liberation Sans", "DejaVu Sans", sans-serif' font-size="23" font-weight="normal" font-style="normal" fill="#000" xml:space="preserve">-1</text>
<text transform="translate(883.25,505.00) scale(1.0811,1.0277)" font-family='"Liberation Sans", "DejaVu Sans", sans-serif' font-size="23" font-weight="normal" font-style="normal" fill="#000" xml:space="preserve">-2</text>
<text transform="translate(883.12,598.87) scale(1.0811,1.0277)" font-family='"Liberation Sans", "DejaVu Sans", sans-serif' font-size="23" font-weight="normal" font-style="normal" fill="#000" xml:space="preserve">-3</text>
<text transform="translate(1329.19,703.15) scale(1.0041,1.0689)" font-family='"Liberation Sans", "DejaVu Sans", sans-serif' font-size="30" font-weight="normal" font-style="normal" fill="#000" xml:space="preserve">M<tspan font-size="21" dy="8">N1</tspan><tspan dy="-8"> (GeV)</tspan></text>
<text transform="translate(838.68,339.69) scale(1.1701,1.1942) rotate(-90)" font-family='"Liberation Sans", "DejaVu Sans", sans-serif' font-size="26" font-weight="normal" font-style="normal" fill="#000" xml:space="preserve">σ(pp<tspan font-family='"DejaVu Sans", sans-serif' font-weight="200">→</tspan> Z<tspan font-size="17" dy="-9">’</tspan><tspan dy="9"><tspan font-family='"DejaVu Sans", sans-serif' font-weight="200">→</tspan> N</tspan><tspan font-size="17" dy="6">1</tspan><tspan dy="-6">N</tspan><tspan font-size="17" dy="6">1</tspan><tspan dy="-6">) (fb)</tspan></text>
<text transform="translate(1122.93,37.45) scale(1.0349,1.0000)" font-family='"DejaVu Sans", "Liberation Sans", sans-serif' font-size="31" font-weight="200" font-style="normal" fill="#000" xml:space="preserve">v<tspan font-size="21" dy="5">s</tspan><tspan dy="-5">=8 TeV</tspan></text>
<text transform="translate(1094.00,88.35) scale(1.0578,0.9892)" font-family='"DejaVu Sans", "Liberation Sans", sans-serif' font-size="31" font-weight="200" font-style="normal" fill="#000" xml:space="preserve">100</text>
<text transform="translate(1171.98,88.35) scale(1.0578,0.9892)" font-family='"DejaVu Sans", "Liberation Sans", sans-serif' font-size="31" font-weight="200" font-style="normal" fill="#000" xml:space="preserve">14</text>
<text transform="translate(1234.09,88.11) scale(1.0578,0.9892)" font-family='"DejaVu Sans", "Liberation Sans", sans-serif' font-size="31" font-weight="200" font-style="normal" fill="#000" xml:space="preserve">TeV</text>
<text transform="translate(1234.89,129.29) scale(1.0572,1.0286)" font-family='"Liberation Sans", "DejaVu Sans", sans-serif' font-size="35" font-weight="normal" font-style="normal" fill="#000" xml:space="preserve">M<tspan font-size="24" dy="11">Z</tspan><tspan font-size="24" dy="-8">’</tspan><tspan dy="-3" font-weight="bold">=</tspan>1 TeV</text>
<text transform="translate(1234.89,167.06) scale(1.0572,1.0286)" font-family='"Liberation Sans", "DejaVu Sans", sans-serif' font-size="35" font-weight="normal" font-style="normal" fill="#000" xml:space="preserve">M<tspan font-size="24" dy="11">Z</tspan><tspan font-size="24" dy="-8">’</tspan><tspan dy="-3" font-weight="bold">=</tspan>2 TeV</text>
<text transform="translate(1234.89,206.74) scale(1.0572,1.0286)" font-family='"Liberation Sans", "DejaVu Sans", sans-serif' font-size="35" font-weight="normal" font-style="normal" fill="#000" xml:space="preserve">M<tspan font-size="24" dy="11">Z</tspan><tspan font-size="24" dy="-8">’</tspan><tspan dy="-3" font-weight="bold">=</tspan>3 TeV</text>
</svg></body></html>
